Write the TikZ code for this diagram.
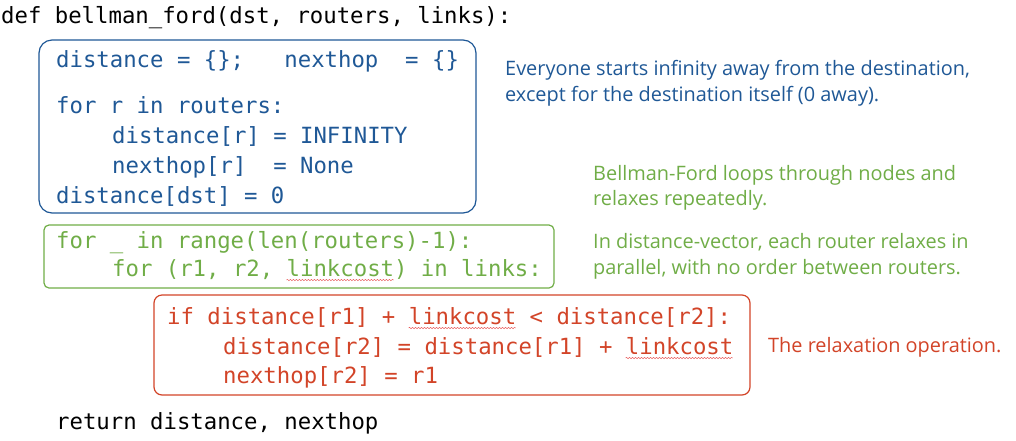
\documentclass[tikz,border=0pt]{standalone}
\usepackage{fontspec}
\setmonofont{DejaVu Sans Mono}
\setsansfont{Open Sans}
\usetikzlibrary{decorations.pathmorphing}
\definecolor{initblue}{RGB}{31,88,150}
\definecolor{loopgreen}{RGB}{112,173,71}
\definecolor{relaxred}{RGB}{210,68,40}
\definecolor{squiggle}{RGB}{232,90,90}
\begin{document}
\begin{tikzpicture}[x=1pt,y=-1pt,
code/.style={anchor=base west, inner sep=0, font=\fontsize{22.3}{26}\ttfamily},
note/.style={anchor=base west, inner sep=0, font=\fontsize{19.9}{24}\sffamily},
blk/.style={draw, rounded corners=#1, line width=1.2pt},
wavy/.style={squiggle, line width=0.45pt, decorate, decoration={snake, amplitude=0.7pt, segment length=3pt}}]
	\useasboundingbox (0,0) rectangle (1016,440);
	% frames
	\draw[blk=13pt, initblue] (39,40) rectangle (476,213);
	\draw[blk=5pt, loopgreen] (44,225) rectangle (554,288);
	\draw[blk=8pt, relaxred] (154,295) rectangle (750,395);
	% code
	\node[code] at (1,23) (head) {def bellman\_ford(dst, routers, links):};
	\node[code, initblue] at (56,67) (ini1) {distance = \{\};\ \ \ nexthop\ \ = \{\}};
	\node[code, initblue] at (56,113) (ini2) {for r in routers:};
	\node[code, initblue] at (112,143) (ini3) {distance[r] = INFINITY};
	\node[code, initblue] at (112,173) (ini4) {nexthop[r]\ \ = None};
	\node[code, initblue] at (56,203) (ini5) {distance[dst] = 0};
	\node[code, loopgreen] at (56,248) (lp1) {for \_ in range(len(routers)-1):};
	\node[code, loopgreen] at (112,276) (lp2) {for (r1, r2, linkcost) in links:};
	\node[code, relaxred] at (167,324) (rx1) {if distance[r1] + linkcost < distance[r2]:};
	\node[code, relaxred] at (223,354) (rx2) {distance[r2] = distance[r1] + linkcost};
	\node[code, relaxred] at (223,383) (rx3) {nexthop[r2] = r1};
	\node[code] at (56,429) (ret) {return distance, nexthop};
	% spell-check marks
	\draw[wavy] ([shift={(174.5,4)}]lp2.base west) -- ([shift={(281.8,4)}]lp2.base west);
	\draw[wavy] ([shift={(241.6,4)}]rx1.base west) -- ([shift={(348.9,4)}]rx1.base west);
	\draw[wavy] ([shift={(402.6,4)}]rx2.base west) -- ([shift={(509.9,4)}]rx2.base west);
	% notes
	\node[note, initblue] at (505,75) (n1) {Everyone starts infinity away from the destination,};
	\node[note, initblue] at (505,101) (n2) {except for the destination itself (0 away).};
	\node[note, loopgreen] at (593,180) (n3) {Bellman-Ford loops through nodes and};
	\node[note, loopgreen] at (593,205) (n4) {relaxes repeatedly.};
	\node[note, loopgreen] at (593,248) (n5) {In distance-vector, each router relaxes in};
	\node[note, loopgreen] at (593,274) (n6) {parallel, with no order between routers.};
	\node[note, relaxred] at (768,352) (n7) {The relaxation operation.};
\end{tikzpicture}
\end{document}
